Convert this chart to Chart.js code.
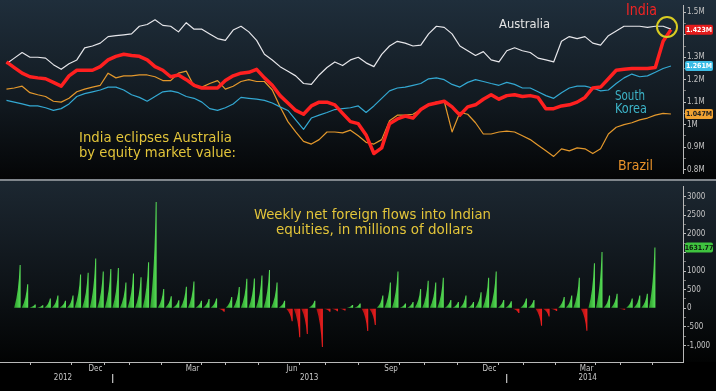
<!DOCTYPE html>
<html><head><meta charset="utf-8">
<script src="https://cdn.jsdelivr.net/npm/chart.js@4.4.1/dist/chart.umd.min.js"></script>
<style>
html,body{margin:0;padding:0;background:#000;width:716px;height:391px;overflow:hidden}
#top{position:absolute;left:0;top:0;width:716px;height:179px;background:linear-gradient(#1f2e3b,#121a21 55%,#040506)}
#sep{position:absolute;left:0;top:179px;width:716px;height:2px;background:#80868c}
#bot{position:absolute;left:0;top:181px;width:716px;height:210px;background:linear-gradient(#1c2731 0px,#0d1216 110px,#020303 181px,#000 181px)}
canvas{display:block}
</style></head><body>
<div id="top"><canvas id="c1" width="716" height="179" style="width:716px;height:179px"></canvas></div>
<div id="sep"></div>
<div id="bot"><canvas id="c2" width="716" height="210" style="width:716px;height:210px"></canvas></div>
<script>
// ---------- DATA ----------
const weeks = ['2012-10-05','2012-10-12','2012-10-19','2012-10-26','2012-11-02','2012-11-09','2012-11-16','2012-11-23','2012-11-30',
'2012-12-07','2012-12-14','2012-12-21','2012-12-28','2013-01-04','2013-01-11','2013-01-18','2013-01-25','2013-02-01','2013-02-08',
'2013-02-15','2013-02-22','2013-03-01','2013-03-08','2013-03-15','2013-03-22','2013-03-29','2013-04-05','2013-04-12','2013-04-19',
'2013-04-26','2013-05-03','2013-05-10','2013-05-17','2013-05-24','2013-05-31','2013-06-07','2013-06-14','2013-06-21','2013-06-28',
'2013-07-05','2013-07-12','2013-07-19','2013-07-26','2013-08-02','2013-08-09','2013-08-16','2013-08-23','2013-08-30','2013-09-06',
'2013-09-13','2013-09-20','2013-09-27','2013-10-04','2013-10-11','2013-10-18','2013-10-25','2013-11-01','2013-11-08','2013-11-15',
'2013-11-22','2013-11-29','2013-12-06','2013-12-13','2013-12-20','2013-12-27','2014-01-03','2014-01-10','2014-01-17','2014-01-24',
'2014-01-31','2014-02-07','2014-02-14','2014-02-21','2014-02-28','2014-03-07','2014-03-14','2014-03-21','2014-03-28','2014-04-04',
'2014-04-11','2014-04-18','2014-04-25','2014-05-02','2014-05-09','2014-05-16','2014-05-23'];

// equity market value (axis labelled in "M")
const india = [1.279,1.254,1.229,1.213,1.208,1.204,1.188,1.171,1.217,1.242,
 1.242,1.242,1.258,1.288,1.304,1.313,1.308,1.304,1.288,1.258,
 1.242,1.213,1.221,1.200,1.175,1.163,1.163,1.163,1.196,1.217,
 1.229,1.233,1.246,1.208,1.175,1.129,1.096,1.063,1.046,1.083,
 1.100,1.100,1.088,1.050,1.013,1.004,0.954,0.871,0.896,1.004,
 1.025,1.038,1.029,1.067,1.088,1.096,1.104,1.079,1.042,1.079,
 1.088,1.113,1.133,1.113,1.129,1.133,1.125,1.129,1.121,1.071,
 1.071,1.083,1.088,1.100,1.121,1.163,1.167,1.204,1.242,1.246,
 1.250,1.250,1.250,1.254,1.371,1.423];
const australia = [1.271,1.296,1.321,1.300,1.300,1.296,1.267,1.246,1.271,1.288,
 1.342,1.350,1.363,1.392,1.396,1.400,1.404,1.438,1.446,1.467,
 1.442,1.438,1.413,1.454,1.425,1.425,1.404,1.383,1.375,1.421,
 1.438,1.413,1.375,1.313,1.288,1.258,1.238,1.217,1.183,1.179,
 1.221,1.254,1.279,1.263,1.288,1.300,1.275,1.258,1.313,1.350,
 1.371,1.363,1.350,1.354,1.404,1.438,1.433,1.404,1.350,1.329,
 1.308,1.325,1.288,1.279,1.329,1.342,1.329,1.321,1.296,1.288,
 1.279,1.371,1.392,1.383,1.392,1.363,1.354,1.396,1.417,1.438,
 1.438,1.438,1.433,1.438,1.438,1.425];
const southKorea = [1.108,1.100,1.092,1.083,1.083,1.075,1.063,1.071,1.092,1.125,
 1.138,1.146,1.154,1.167,1.167,1.154,1.133,1.121,1.104,1.125,
 1.146,1.150,1.142,1.125,1.117,1.100,1.071,1.063,1.075,1.092,
 1.121,1.117,1.113,1.108,1.096,1.079,1.063,1.021,0.979,1.029,
 1.042,1.054,1.067,1.071,1.075,1.083,1.054,1.083,1.117,1.150,
 1.163,1.167,1.175,1.183,1.204,1.208,1.200,1.179,1.167,1.188,
 1.200,1.192,1.183,1.175,1.188,1.179,1.163,1.163,1.146,1.129,
 1.117,1.142,1.163,1.171,1.171,1.163,1.150,1.154,1.183,1.208,
 1.225,1.213,1.217,1.233,1.250,1.261];
const brazil = [1.158,1.163,1.171,1.142,1.133,1.125,1.104,1.100,1.117,1.146,
 1.158,1.167,1.175,1.229,1.208,1.217,1.217,1.221,1.221,1.213,
 1.196,1.196,1.229,1.238,1.171,1.167,1.183,1.196,1.158,1.171,
 1.192,1.200,1.192,1.192,1.154,1.079,1.013,0.967,0.925,0.913,
 0.933,0.967,0.967,0.963,0.975,0.950,0.921,0.913,0.933,1.017,
 1.042,1.042,1.046,1.067,1.088,1.100,1.104,0.967,1.054,1.046,
 1.008,0.958,0.958,0.967,0.971,0.967,0.950,0.933,0.908,0.883,
 0.858,0.892,0.883,0.896,0.892,0.871,0.892,0.958,0.988,1.000,
 1.008,1.021,1.029,1.042,1.050,1.047];

// weekly net foreign flows into Indian equities, $ millions (weeks[0..84])
const flows = [1160,644,100,80,260,346,200,346,904,950,
 1338,990,1052,1078,690,930,830,1234,2852,520,
 320,216,580,720,200,250,260,-90,300,570,
 790,800,880,1030,690,200,-350,-780,-690,200,
 -1040,-90,-80,-60,90,130,-610,-450,346,690,
 990,130,170,520,740,690,820,220,170,346,
 170,430,820,990,220,190,-130,260,220,-470,
 -220,-70,300,346,820,-600,1210,1510,346,390,
 -40,260,346,390,1631.77];

// tick labels
const topTickValues = [0.8,0.9,1.0,1.1,1.2,1.3,1.4,1.5];
const topTickLabels = ['0.8M','0.9M','1M','1.1M','1.2M','1.3M','1.4M','1.5M'];
const botTickValues = [-1000,-500,0,500,1000,1500,2000,2500,3000];
const botTickLabels = ['-1,000','-500','0','500','1000','1500','2000','2500','3000'];
const monthLabels = ['Dec','Mar','Jun','Sep','Dec','Mar'];
const monthLabelDates = ['2012-12-16','2013-03-16','2013-06-16','2013-09-16','2013-12-16','2014-03-16'];
const yearLabels = ['2012','2013','2014'];
const yearLabelDates = ['2012-11-16','2013-07-02','2014-03-17'];

// ---------- HELPERS ----------
const FONT = "'DejaVu Sans Condensed','DejaVu Sans',sans-serif";
const DAY0 = Date.UTC(2012,9,1);
const toDay = s => (Date.parse(s + 'T00:00:00Z') - DAY0) / 86400000;
const X_MIN = -1.8, X_MAX = 609.8;
const weekDays = weeks.map(toDay);
const pts = arr => arr.map((v,i)=>({x:weekDays[i], y:v}));

function fitText(ctx, text, x, y, w, size, color){
  ctx.save();
  ctx.font = size + 'px ' + FONT;
  const m = ctx.measureText(text).width;
  ctx.translate(x, y);
  ctx.scale(w/m, 1);
  ctx.fillStyle = color;
  ctx.textBaseline = 'alphabetic';
  ctx.textAlign = 'left';
  ctx.fillText(text, 0, 0);
  ctx.restore();
}
function tag(chart, value, text, fill, txtColor){
  const ctx = chart.ctx, y = chart.scales.y.getPixelForValue(value);
  ctx.save();
  ctx.fillStyle = fill;
  ctx.beginPath();
  ctx.roundRect(685, y-5, 28, 10, 2);
  ctx.fill();
  ctx.fillStyle = txtColor;
  ctx.font = 'bold 7px ' + FONT;
  ctx.textAlign = 'center'; ctx.textBaseline = 'middle';
  ctx.fillText(text, 699, y+0.5);
  ctx.restore();
}

function minorTicks(values, step){
  const out=[];
  for(let i=0;i<values.length;i++){
    out.push({value:values[i], label:i});
    if(i<values.length-1) out.push({value:+(values[i]+step).toFixed(4), label:-1});
  }
  return out;
}
const topTicks = minorTicks(topTickValues, 0.05);
const botTicks = minorTicks(botTickValues, 250);

function rightAxis(min, max, ticks, labels, hideNear, hideTol){
  return {
    position:'right', min, max,
    afterBuildTicks: s => { s.ticks = ticks.map(t=>({value:t.value, li:t.label})); },
    afterFit: s => { s.width = 33; },
    ticks:{ autoSkip:false, padding:1, color:'#c4c4c4', font:{family:FONT,size:8},
      callback:(v,i)=> (ticks[i].label>=0 && Math.abs(v-hideNear)>hideTol) ? labels[ticks[i].label] : '' },
    grid:{ drawOnChartArea:false, drawTicks:true, tickLength:3,
      tickColor: c => (c.tick && c.tick.li < 0) ? '#777' : '#bbb' },
    border:{ display:true, color:'#b8b8b8', width:1 }
  };
}

// x ticks: month boundaries + label positions
const xTicks = [];
for(let y=2012, m=9; !(y===2014 && m===6); ){
  const t = Date.UTC(y,m,1), d=(t-DAY0)/864e5;
  xTicks.push({value:d, text: m===0 ? ['','|'] : '', kind: m===0 ? 'year' : 'month'});
  m++; if(m===12){m=0;y++;}
}
monthLabelDates.forEach((s,i)=>xTicks.push({value:toDay(s), text:monthLabels[i], kind:'label'}));
yearLabelDates.forEach((s,i)=>xTicks.push({value:toDay(s)+0.01, text:['',yearLabels[i]], kind:'label'}));
xTicks.sort((a,b)=>a.value-b.value);

// ---------- TOP CHART ----------
const topPlugin = {
  id:'topDeco',
  afterDraw(chart){
    const ctx = chart.ctx;
    fitText(ctx,'Australia',499,28,51,13,'#e4e4e4');
    fitText(ctx,'India',626,15,31,15,'#f02424');
    fitText(ctx,'South',615,100,30,14,'#3db4c8');
    fitText(ctx,'Korea',615,113,32,14,'#3db4c8');
    fitText(ctx,'Brazil',618,170,35,14,'#e8922a');
    fitText(ctx,'India eclipses Australia',79,142,153,14,'#e3c53a');
    fitText(ctx,'by equity market value:',79,157,157,14,'#e3c53a');
    ctx.save();
    ctx.strokeStyle='#d8cc22'; ctx.lineWidth=2;
    ctx.beginPath(); ctx.arc(667,27,10,0,Math.PI*2); ctx.stroke();
    ctx.restore();
    tag(chart, india[india.length-1], india[india.length-1].toFixed(3)+'M', '#e41c1c', '#fff');
    tag(chart, southKorea[southKorea.length-1], southKorea[southKorea.length-1].toFixed(3)+'M', '#3cbde6', '#fff');
    tag(chart, brazil[brazil.length-1], brazil[brazil.length-1].toFixed(3)+'M', '#f0a232', '#222');
  }
};
const lineDs = (label, data, color, w) => ({label, data:pts(data), borderColor:color, borderWidth:w,
  pointRadius:0, tension:0, fill:false, borderJoinStyle:'round'});

new Chart(document.getElementById('c1'), {
  type:'line',
  data:{ datasets:[
    lineDs('India', india, '#ff2020', 3.5),
    lineDs('Australia', australia, '#e6e6ea', 1.2),
    lineDs('South Korea', southKorea, '#33a8d2', 1.2),
    lineDs('Brazil', brazil, '#e3982c', 1.2)
  ]},
  options:{
    responsive:false, animation:false, layout:{padding:0},
    plugins:{legend:{display:false}, tooltip:{enabled:false}},
    scales:{
      x:{type:'linear', display:false, min:X_MIN, max:X_MAX},
      y:rightAxis(0.78333, 1.52917, topTicks, topTickLabels, india[india.length-1], 0.03)
    }
  },
  plugins:[topPlugin]
});

// ---------- BOTTOM CHART ----------
// bars rendered as Bloomberg-style spikes using each bar element's own geometry
const spikePlugin = {
  id:'spikes',
  afterDatasetsDraw(chart){
    const ctx = chart.ctx, meta = chart.getDatasetMeta(0), a = chart.chartArea;
    ctx.save();
    ctx.beginPath(); ctx.rect(a.left, a.top, a.right-a.left, a.bottom-a.top); ctx.clip();
    meta.data.forEach((el, i) => {
      const p = el.getProps(['x','y','base','width'], true);
      const left = p.x - 3.5, right = p.x + 3;
      const neg = flows[i] < 0;
      const g = ctx.createLinearGradient(left, 0, right, 0);
      if (neg) { g.addColorStop(0,'#a01010'); g.addColorStop(1,'#f02020'); }
      else { g.addColorStop(0,'#2a9a2a'); g.addColorStop(1,'#58e058'); }
      ctx.fillStyle = g;
      ctx.beginPath();
      ctx.moveTo(left, p.base);
      ctx.quadraticCurveTo(right - 2, p.base + (p.y - p.base) * 0.35, right - 1, p.y);
      ctx.lineTo(right, p.y);
      ctx.lineTo(right, p.base);
      ctx.closePath();
      ctx.fill();
    });
    ctx.restore();
  }
};
const botPlugin = {
  id:'botDeco',
  afterDraw(chart){
    const ctx = chart.ctx;
    fitText(ctx,'Weekly net foreign flows into Indian',254,37.5,237,14,'#e3c53a');
    fitText(ctx,'equities, in millions of dollars',276,53,197,14,'#e3c53a');
    tag(chart, flows[flows.length-1], flows[flows.length-1].toFixed(2), '#3fc43f', '#102010');
  }
};
new Chart(document.getElementById('c2'), {
  type:'bar',
  data:{ datasets:[{
    label:'Flows',
    data: flows.map((v,i)=>({x:weekDays[i], y:v})),
    backgroundColor:'rgba(0,0,0,0)',
    barThickness:6, borderWidth:0
  }]},
  options:{
    responsive:false, animation:false, layout:{padding:0},
    plugins:{legend:{display:false}, tooltip:{enabled:false}},
    scales:{
      x:{type:'linear', min:X_MIN, max:X_MAX, position:'bottom',
        afterBuildTicks: s => { s.ticks = xTicks.map(t=>({value:t.value, kind:t.kind})); },
        afterFit: s => { s.height = 29; },
        ticks:{ autoSkip:false, maxRotation:0, minRotation:0, padding:0,
          color: c => (c.tick && c.tick.kind==='year') ? '#f0f0f0' : '#c8c8c8',
          font: c => (c.tick && c.tick.kind==='year') ? {family:FONT,size:9,weight:'bold',lineHeight:1.0} : {family:FONT,size:8,lineHeight:1.1},
          callback:(v,i)=> xTicks[i].text },
        grid:{ drawOnChartArea:false, drawTicks:true, tickLength:3,
          tickColor: c => (c.tick && c.tick.kind==='label') ? 'rgba(0,0,0,0)' : '#bbb' },
        border:{ display:true, color:'#b8b8b8', width:1 }
      },
      y:rightAxis(-1441.6, 3259.7, botTicks, botTickLabels, flows[flows.length-1], 200)
    }
  },
  plugins:[spikePlugin, botPlugin]
});
</script>
</body></html>
